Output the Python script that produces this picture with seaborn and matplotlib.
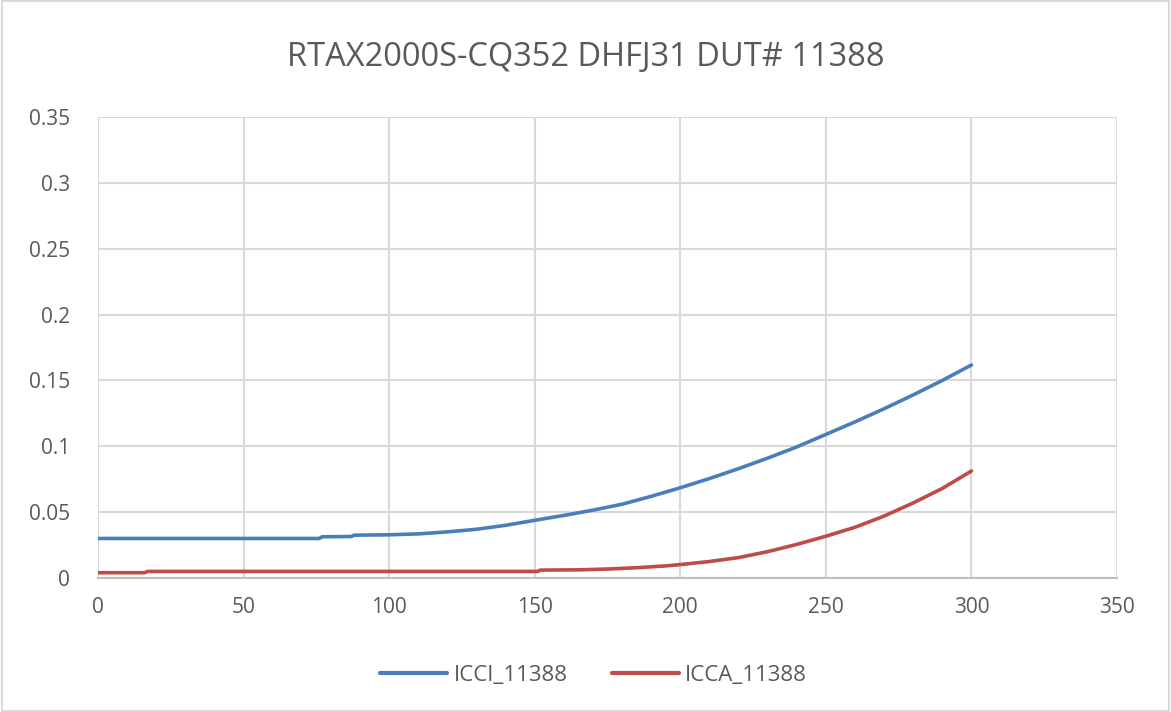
import matplotlib
matplotlib.use("Agg")
import matplotlib.pyplot as plt
import seaborn as sns
import pandas as pd
from matplotlib.lines import Line2D

# Data
icci_x = [0, 10, 20, 30, 40, 50, 60, 70, 76, 77, 87, 88, 100, 110, 120, 130, 140, 150,
          160, 170, 180, 190, 200, 210, 220, 230, 240, 250, 260, 270, 280, 290, 300]
icci_y = [0.030, 0.030, 0.030, 0.030, 0.030, 0.030, 0.030, 0.030, 0.030, 0.0313, 0.0315, 0.0325,
          0.0328, 0.0335, 0.035, 0.037, 0.040, 0.0438, 0.0475, 0.0515, 0.056, 0.062, 0.0685,
          0.0755, 0.083, 0.091, 0.0995, 0.109, 0.1185, 0.1285, 0.139, 0.150, 0.1617]
icca_x = [0, 16, 17, 30, 60, 90, 120, 151, 152, 165, 175, 185, 195, 200, 210, 220, 230,
          240, 250, 260, 270, 280, 290, 300]
icca_y = [0.004, 0.004, 0.005, 0.005, 0.005, 0.005, 0.005, 0.005, 0.006, 0.0062, 0.0068, 0.0078,
          0.0092, 0.0102, 0.0125, 0.0155, 0.020, 0.0255, 0.0317, 0.0385, 0.047, 0.057,
          0.068, 0.0812]
series_names = ["ICCI_11388", "ICCA_11388"]
title = "RTAX2000S-CQ352 DHFJ31 DUT# 11388"
x_ticks = [0, 50, 100, 150, 200, 250, 300, 350]
y_ticks = [0, 0.05, 0.1, 0.15, 0.2, 0.25, 0.3, 0.35]
y_labels = ["0", "0.05", "0.1", "0.15", "0.2", "0.25", "0.3", "0.35"]

df = pd.concat([
    pd.DataFrame({"x": icci_x, "y": icci_y, "series": series_names[0]}),
    pd.DataFrame({"x": icca_x, "y": icca_y, "series": series_names[1]}),
])

sns.set_theme(style="white")
plt.rcParams["font.family"] = ["Open Sans", "DejaVu Sans"]

fig = plt.figure(figsize=(11.71, 7.12), dpi=100)
ax = fig.add_axes([98 / 1171, 1 - 578 / 712, (1117 - 98) / 1171, (578 - 117) / 712])

palette = {series_names[0]: "#4a7ebb", series_names[1]: "#be4b48"}
sns.lineplot(data=df, x="x", y="y", hue="series", palette=palette, linewidth=2.6,
             ax=ax, legend=False, estimator=None, sort=False)

ax.set_xlim(0, 350)
ax.set_ylim(0, 0.35)
ax.set_xticks(x_ticks)
ax.set_yticks(y_ticks)
ax.set_yticklabels(y_labels)
ax.set_xlabel("")
ax.set_ylabel("")
ax.grid(True, color="#d9d9d9", linewidth=1.5)
ax.set_axisbelow(True)
for s in ["top", "right", "left"]:
    ax.spines[s].set_visible(False)
ax.spines["bottom"].set_color("#bfbfbf")
ax.spines["bottom"].set_linewidth(1.5)
ax.tick_params(axis="y", length=0, labelsize=15, colors="#595959", pad=20)
ax.tick_params(axis="x", length=0, labelsize=15, colors="#595959", pad=14)

fig.text(0.5, 1 - 58 / 712, title, ha="center", va="center", fontsize=23.5, color="#595959")

handles = [Line2D([], [], color=palette[n], linewidth=3) for n in series_names]
fig.legend(handles, series_names, loc="center", bbox_to_anchor=(0.507, 1 - 675 / 712),
           ncol=2, frameon=False, fontsize=16, labelcolor="#595959",
           handlelength=3.0, columnspacing=2.0, handletextpad=0.3)

# outer chart border
fig.patches.append(plt.Rectangle((0.002, 0.002), 0.996, 0.996, transform=fig.transFigure,
                                 fill=False, edgecolor="#d9d9d9", linewidth=1.5))

fig.savefig("out.png", dpi=100, facecolor="white")
